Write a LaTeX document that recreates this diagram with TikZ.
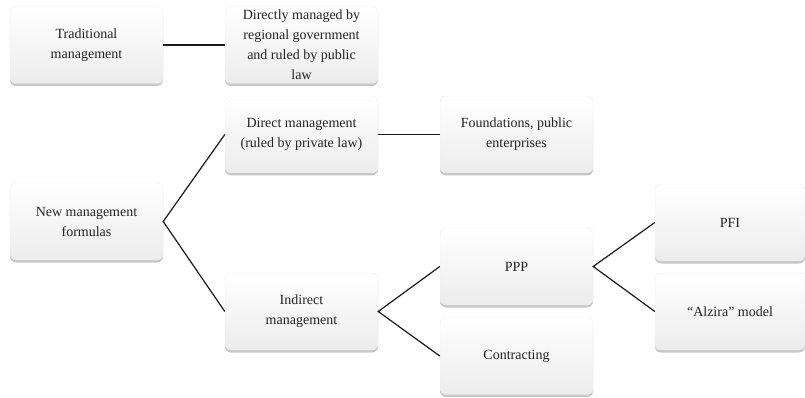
\documentclass[tikz,border=0pt]{standalone}
\usepackage{fontspec}
\setmainfont{Liberation Serif}
\usetikzlibrary{shadows}
\definecolor{TextColor}{RGB}{35,35,35}
\definecolor{BoxBottom}{RGB}{236,236,236}
\tikzset{
  box/.style={rectangle, rounded corners=6pt, minimum width=153pt, minimum height=77pt,
    top color=white, bottom color=BoxBottom, draw=white!93!black, line width=0.4pt,
    drop shadow={opacity=0.45, shadow xshift=0pt, shadow yshift=-2.5pt},
    text=TextColor, align=center, font=\fontsize{14}{20}\selectfont},
  link/.style={line width=1.2pt, black!90}
}

\begin{document}
\begin{tikzpicture}[x=1pt, y=-1pt]
  \useasboundingbox (0,0) rectangle (805,398);

  % Traditional branch
  \node[box] (trad) at (86.5,45) {Traditional\\management};
  \node[box] (regional) at (301.5,45) {Directly managed by\\regional government\\and ruled by public\\law};

  % New formulas
  \node[box] (newform) at (86.5,221.5) {New management\\formulas};
  \node[box] (direct) at (301.5,134.5) {Direct management\\(ruled by private law)};
  \node[box] (found) at (516.5,134.5) {Foundations, public\\enterprises};
  \node[box] (indirect) at (301.5,311.5) {Indirect\\management};
  \node[box] (ppp) at (516.5,266.5) {PPP};
  \node[box] (contract) at (516.5,356) {Contracting};
  \node[box, minimum width=150pt] (pfi) at (730,222.5) {PFI};
  \node[box, minimum width=150pt] (alzira) at (730,311.5) {``Alzira'' model};

  % Links
  \draw[link] (trad.east) -- (regional.west);
  \draw[link] (direct.east) -- (found.west);
  \draw[link] (direct.west) -- (newform.east) -- (indirect.west);
  \draw[link] (ppp.west) -- (indirect.east) -- (contract.west);
  \draw[link] (pfi.west) -- (ppp.east) -- (alzira.west);
\end{tikzpicture}
\end{document}
